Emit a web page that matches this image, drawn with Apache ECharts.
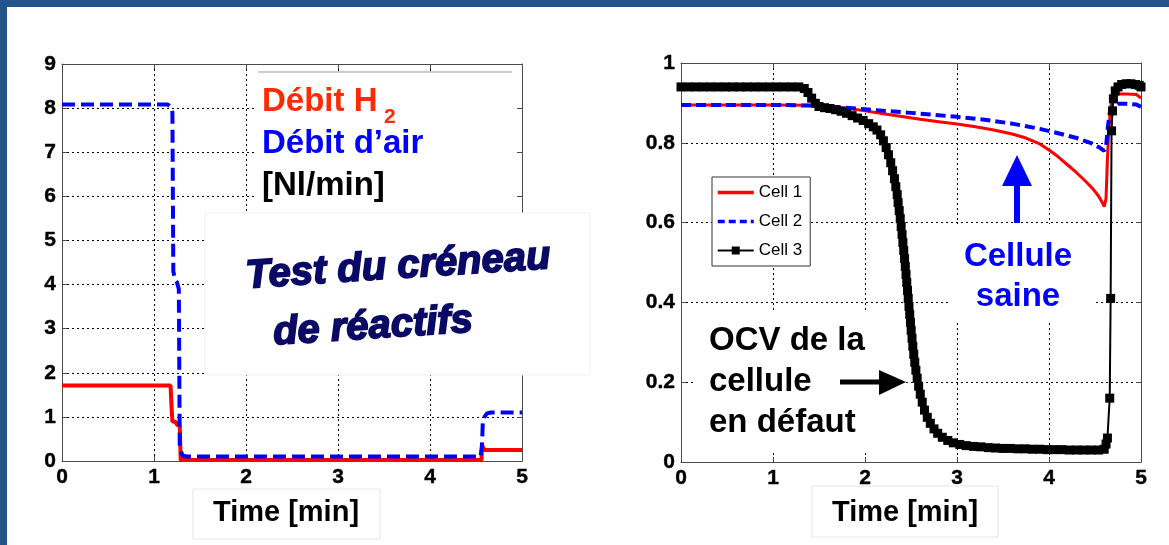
<!DOCTYPE html>
<html>
<head>
<meta charset="utf-8">
<script src="https://cdn.jsdelivr.net/npm/echarts@6/dist/echarts.min.js"></script>
<style>
  html, body { margin: 0; padding: 0; background: #fff; }
  #chart { width: 1169px; height: 545px; }
</style>
</head>
<body>
<div id="chart"></div>
<script>
// ---- Left panel: reactant flow rates [Nl/min] vs time [min] ----
const h2Time = [0, 1.18, 1.19, 1.20, 1.24, 1.25, 1.28, 1.29, 4.56, 4.565, 4.59, 5.0];
const h2Flow = [1.71, 1.71, 1.25, 0.90, 0.88, 0.82, 0.80, 0.02, 0.02, 0.36, 0.25, 0.25];

const airTime = [0, 1.15, 1.19, 1.20, 1.21, 1.23, 1.25, 1.27, 1.28, 1.31, 1.36, 4.55, 4.565, 4.575, 4.62, 4.66, 5.0];
const airFlow = [8.08, 8.08, 8.02, 7.90, 4.30, 4.10, 4.05, 3.90, 0.30, 0.12, 0.10, 0.10, 0.35, 0.95, 1.08, 1.10, 1.10];

// ---- Right panel: cell voltages [V] vs time [min] ----
const cell1Time = [0, 0.5, 1.0, 1.4, 1.6, 1.8, 2.0, 2.2, 2.4, 2.6, 2.8, 3.0, 3.2, 3.4, 3.6, 3.75, 3.9, 4.0, 4.1, 4.2, 4.3, 4.4, 4.48, 4.54, 4.58, 4.60, 4.62, 4.635, 4.65, 4.67, 4.70, 4.75, 4.85, 4.95, 5.0];
const cell1V = [0.895, 0.895, 0.895, 0.894, 0.891, 0.887, 0.880, 0.873, 0.866, 0.859, 0.853, 0.847, 0.840, 0.832, 0.822, 0.812, 0.797, 0.782, 0.765, 0.745, 0.725, 0.703, 0.684, 0.666, 0.650, 0.640, 0.660, 0.760, 0.830, 0.890, 0.915, 0.922, 0.922, 0.921, 0.912];

const cell2Time = [0, 1.0, 1.5, 2.0, 2.5, 3.0, 3.3, 3.6, 3.9, 4.1, 4.3, 4.45, 4.55, 4.60, 4.62, 4.64, 4.66, 4.69, 4.75, 4.85, 4.95, 5.0];
const cell2V = [0.895, 0.895, 0.893, 0.884, 0.875, 0.865, 0.858, 0.848, 0.835, 0.824, 0.812, 0.800, 0.788, 0.780, 0.790, 0.840, 0.875, 0.893, 0.898, 0.898, 0.896, 0.890];

const cell3Time = [
  0.00, 0.08, 0.16, 0.24, 0.32, 0.40, 0.48, 0.56, 0.64, 0.72, 0.80, 0.88, 0.96, 1.04, 1.12, 1.20, 1.28,
  1.34, 1.38, 1.42, 1.46, 1.50, 1.56, 1.62, 1.68, 1.74, 1.80, 1.86, 1.92, 1.98, 2.04, 2.09, 2.13, 2.17,
  2.20, 2.23, 2.255, 2.28, 2.30, 2.32, 2.335, 2.35, 2.36, 2.372, 2.383, 2.393, 2.403, 2.412, 2.421, 2.430,
  2.438, 2.446, 2.454, 2.462, 2.470, 2.478, 2.486, 2.494, 2.502, 2.511, 2.520, 2.530, 2.541, 2.553, 2.567,
  2.583, 2.601, 2.622, 2.647, 2.677, 2.71, 2.75, 2.79, 2.84, 2.90, 2.96, 3.03, 3.10, 3.18, 3.26, 3.34,
  3.42, 3.50, 3.58, 3.66, 3.74, 3.82, 3.90, 3.98, 4.06, 4.14, 4.22, 4.30, 4.38, 4.46, 4.54, 4.60, 4.62,
  4.635, 4.66, 4.67, 4.68, 4.69, 4.70, 4.72, 4.75, 4.79, 4.84, 4.89, 4.94, 4.98, 5.00
];
const cell3V = [
  0.940, 0.940, 0.940, 0.940, 0.940, 0.940, 0.940, 0.940, 0.940, 0.940, 0.940, 0.940, 0.940, 0.940, 0.940, 0.940, 0.940,
  0.936, 0.926, 0.912, 0.899, 0.891, 0.888, 0.886, 0.883, 0.879, 0.874, 0.868, 0.862, 0.856, 0.848, 0.840, 0.832, 0.820,
  0.805, 0.788, 0.770, 0.750, 0.730, 0.710, 0.690, 0.670, 0.650, 0.630, 0.610, 0.590, 0.570, 0.550, 0.530, 0.510,
  0.490, 0.470, 0.450, 0.430, 0.410, 0.390, 0.370, 0.350, 0.330, 0.310, 0.290, 0.270, 0.250, 0.230, 0.210,
  0.190, 0.170, 0.150, 0.130, 0.112, 0.097, 0.083, 0.072, 0.062, 0.054, 0.048, 0.044, 0.041, 0.039, 0.038, 0.036,
  0.035, 0.034, 0.034, 0.033, 0.033, 0.032, 0.032, 0.031, 0.031, 0.031, 0.030, 0.030, 0.030, 0.030, 0.030, 0.032, 0.045,
  0.060, 0.160, 0.410, 0.830, 0.880, 0.910, 0.930, 0.940, 0.946, 0.948, 0.948, 0.946, 0.944, 0.940
];

// Axis tick settings
const timeTicks = { min: 0, max: 5, interval: 1 };
const flowTicks = { min: 0, max: 9, interval: 1 };
const voltTicks = { min: 0, max: 1, interval: 0.2 };

const zip = (xs, ys) => xs.map((x, i) => [x, ys[i]]);

const FONT = '"Liberation Sans", Arial, Helvetica, sans-serif';
const FRAME = '#4a4a4a';

const tickLabel = { color: '#000', fontFamily: FONT, fontWeight: 'bold', fontSize: 21,
  textBorderColor: '#000', textBorderWidth: 0.4 };
const gridDots = { show: true, lineStyle: { color: '#000', width: 1, type: [2, 3] } };
const frameLine = { show: true, onZero: false, lineStyle: { color: FRAME, width: 1 } };
const innerTicks = { show: true, inside: true, length: 5, lineStyle: { color: FRAME } };

function mainX(gridIndex) {
  return Object.assign({ type: 'value', gridIndex, position: 'bottom',
    axisLine: frameLine, axisTick: innerTicks, splitLine: gridDots,
    axisLabel: Object.assign({ margin: 6 }, tickLabel) }, timeTicks);
}
function sideX(gridIndex) {
  return Object.assign({ type: 'value', gridIndex, position: 'top',
    axisLine: frameLine, axisTick: innerTicks, splitLine: { show: false },
    axisLabel: { show: false } }, timeTicks);
}
function mainY(gridIndex, ticks) {
  return Object.assign({ type: 'value', gridIndex, position: 'left',
    axisLine: frameLine, axisTick: innerTicks, splitLine: gridDots,
    axisLabel: Object.assign({ margin: 6 }, tickLabel) }, ticks);
}
function sideY(gridIndex, ticks) {
  return Object.assign({ type: 'value', gridIndex, position: 'right',
    axisLine: frameLine, axisTick: innerTicks, splitLine: { show: false },
    axisLabel: { show: false } }, ticks);
}

const txt = (text, x, y, size, color, extra) => ({
  type: 'text', z: 120,
  style: Object.assign({ text, x, y, fill: color, align: 'left', verticalAlign: 'middle',
    font: 'bold ' + size + 'px ' + FONT }, extra || {})
});
const whiteBox = (x, y, w, h, stroke) => ({
  type: 'rect', z: 110, shape: { x, y, width: w, height: h },
  style: { fill: '#fff', stroke: stroke || null, lineWidth: 1 }
});

const option = {
  animation: false,
  backgroundColor: '#fff',
  grid: [
    { left: 62, top: 64, width: 460, height: 397 },
    { left: 681, top: 63, width: 460, height: 399 }
  ],
  xAxis: [mainX(0), sideX(0), mainX(1), sideX(1)],
  yAxis: [mainY(0, flowTicks), sideY(0, flowTicks), mainY(1, voltTicks), sideY(1, voltTicks)],
  legend: {
    data: [
      { name: 'Cell 1', itemStyle: { opacity: 0 }, lineStyle: { color: '#ff0000', width: 3.5 } },
      { name: 'Cell 2', itemStyle: { opacity: 0 }, lineStyle: { color: '#0000ff', width: 3.5, type: [7, 4] } },
      { name: 'Cell 3', itemStyle: { color: '#000' }, lineStyle: { color: '#000', width: 2 } }
    ],
    orient: 'vertical',
    left: 712, top: 177,
    itemWidth: 36, itemHeight: 10, itemGap: 12,
    padding: [7, 8, 7, 4],
    backgroundColor: '#fff',
    borderColor: '#333', borderWidth: 1,
    textStyle: { color: '#000', fontFamily: FONT, fontSize: 17 },
    z: 130
  },
  series: [
    { name: 'Débit H₂', type: 'line', xAxisIndex: 0, yAxisIndex: 0, data: zip(h2Time, h2Flow),
      showSymbol: false, lineStyle: { color: '#ff0000', width: 4 }, itemStyle: { color: '#ff0000' } },
    { name: 'Débit d’air', type: 'line', xAxisIndex: 0, yAxisIndex: 0, data: zip(airTime, airFlow),
      showSymbol: false, lineStyle: { color: '#0000ff', width: 4, type: [13, 6], cap: 'butt', join: 'round' },
      itemStyle: { color: '#0000ff' } },
    { name: 'Cell 1', type: 'line', xAxisIndex: 2, yAxisIndex: 2, data: zip(cell1Time, cell1V),
      showSymbol: false, lineStyle: { color: '#ff0000', width: 3 }, itemStyle: { color: '#ff0000' } },
    { name: 'Cell 2', type: 'line', xAxisIndex: 2, yAxisIndex: 2, data: zip(cell2Time, cell2V),
      showSymbol: false, lineStyle: { color: '#0000ff', width: 4, type: [10, 5] }, itemStyle: { color: '#0000ff' } },
    { name: 'Cell 3', type: 'line', xAxisIndex: 2, yAxisIndex: 2, data: zip(cell3Time, cell3V),
      symbol: 'rect', symbolSize: 9, showSymbol: true,
      lineStyle: { color: '#000', width: 2 }, itemStyle: { color: '#000' } }
  ],
  graphic: [
    // page frame
    { type: 'rect', z: 200, shape: { x: 0, y: 0, width: 1169, height: 7 }, style: { fill: '#23548a' } },
    { type: 'rect', z: 200, shape: { x: 0, y: 0, width: 7, height: 545 }, style: { fill: '#23548a' } },

    // left panel: label block for the two flows
    whiteBox(255, 72, 260, 141),
    { type: 'line', z: 111, shape: { x1: 258, y1: 72, x2: 512, y2: 72 }, style: { stroke: '#bdbdbd', lineWidth: 1.5 } },
    txt('Débit H', 262, 102, 33, '#ff2a00'),
    txt('2', 384, 117, 21, '#ff2a00'),
    txt('Débit d’air', 262, 144, 33, '#0000ff'),
    txt('[Nl/min]', 262, 186, 33, '#000'),

    // left panel: title block
    whiteBox(205, 213, 385, 162, '#f0f0f0'),
    { type: 'text', z: 120, x: 398, y: 267, rotation: 0.065,
      style: { text: 'Test du créneau', x: 0, y: 0, align: 'center', verticalAlign: 'middle',
        fill: '#0a0a66', stroke: '#0a0a66', lineWidth: 1.8, font: 'italic bold 40px ' + FONT } },
    { type: 'text', z: 120, x: 373, y: 327, rotation: 0.065,
      style: { text: 'de réactifs', x: 0, y: 0, align: 'center', verticalAlign: 'middle',
        fill: '#0a0a66', stroke: '#0a0a66', lineWidth: 1.8, font: 'italic bold 40px ' + FONT } },

    // axis titles
    whiteBox(193, 489, 187, 50, '#e6e6e6'),
    txt('Time [min]', 286, 513, 29, '#000', { align: 'center' }),
    whiteBox(812, 486, 186, 51, '#e6e6e6'),
    txt('Time [min]', 905, 513, 29, '#000', { align: 'center' }),

    // right panel: healthy cell note
    whiteBox(950, 224, 143, 98),
    txt('Cellule', 1018, 257, 33, '#0000ff', { align: 'center' }),
    txt('saine', 1018, 297, 33, '#0000ff', { align: 'center' }),
    { type: 'rect', z: 120, shape: { x: 1014, y: 183, width: 6, height: 40 }, style: { fill: '#0000ff' } },
    { type: 'polygon', z: 120, shape: { points: [[1002, 186], [1032, 186], [1017, 155]] }, style: { fill: '#0000ff' } },

    // right panel: faulty cell note
    whiteBox(695, 312, 208, 140),
    txt('OCV de la', 709, 341, 33, '#000'),
    txt('cellule', 709, 382, 33, '#000'),
    txt('en défaut', 709, 423, 33, '#000'),
    { type: 'rect', z: 120, shape: { x: 840, y: 379.5, width: 42, height: 5 }, style: { fill: '#000' } },
    { type: 'polygon', z: 120, shape: { points: [[879, 370], [879, 395], [906, 382]] }, style: { fill: '#000' } }
  ]
};

const chart = echarts.init(document.getElementById('chart'), null, { renderer: 'canvas' });
chart.setOption(option);
</script>
</body>
</html>
